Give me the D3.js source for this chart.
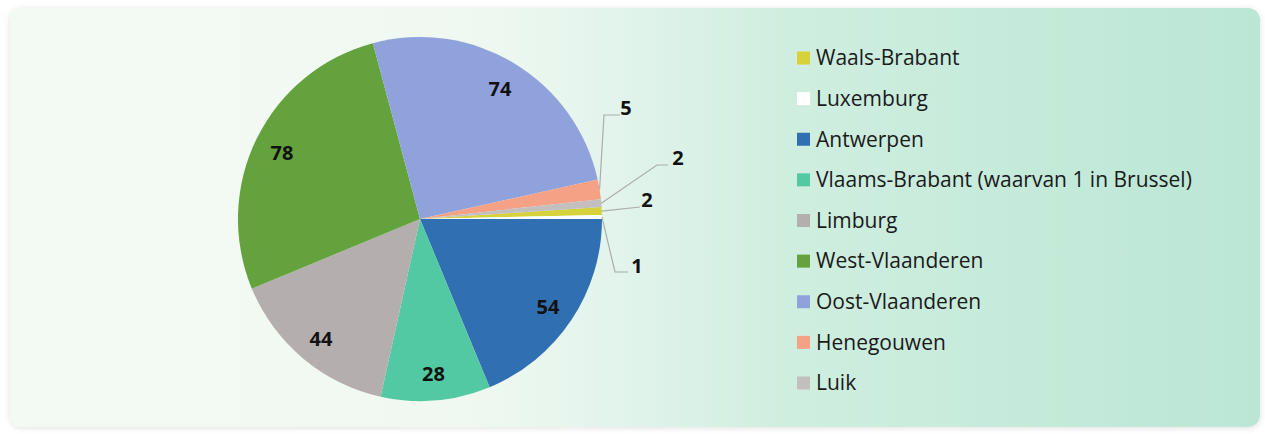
<!DOCTYPE html>
<html>
<head>
<meta charset="utf-8">
<script src="https://cdn.jsdelivr.net/npm/d3@7"></script>
<style>
  html, body { margin: 0; padding: 0; background: #ffffff; }
  svg { display: block; font-family: "Open Sans", "Noto Sans", sans-serif; }
</style>
</head>
<body>
<div id="chart"></div>
<script>
// data, in legend order
var provinces = ["Waals-Brabant", "Luxemburg", "Antwerpen", "Vlaams-Brabant (waarvan 1 in Brussel)",
  "Limburg", "West-Vlaanderen", "Oost-Vlaanderen", "Henegouwen", "Luik"];
var counts = [2, 1, 54, 28, 44, 78, 74, 5, 2];
var colors = ["#d6d23c", "#ffffff", "#2f6fb2", "#52c9a2", "#b4aeae", "#63a23c", "#8fa2dc", "#f5a185", "#c3bfbf"];

var width = 1265, height = 434;
var cx = 420, cy = 219, radius = 182, labelRadius = 154;

// small slices get an outside label with a leader line (offsets from the pie centre)
var outside = {
  "Henegouwen": { text: [206, -104], elbow: [184, -104], end: [200, -104] },
  "Luik": { text: [258, -54], elbow: [237, -54], end: [248, -54] },
  "Waals-Brabant": { text: [227, -12], elbow: null, end: [220, -12] },
  "Luxemburg": { text: [217, 54], elbow: [195, 53], end: [208, 53] }
};

var data = provinces.map(function(p, i) { return { name: p, value: counts[i], color: colors[i] }; });
var total = d3.sum(counts);
// Antwerpen starts at 3 o'clock, so the first two slices sit just above it
var start = Math.PI / 2 - (counts[0] + counts[1]) / total * 2 * Math.PI;

var svg = d3.select("#chart").append("svg")
  .attr("width", width)
  .attr("height", height);

var defs = svg.append("defs");
var grad = defs.append("linearGradient")
  .attr("id", "bg")
  .attr("x1", "0%").attr("x2", "100%").attr("y1", "0%").attr("y2", "0%");
[["0%", "#f3faf3"], ["36%", "#f0f9f1"], ["48%", "#e3f4ec"], ["62%", "#cfeee0"], ["100%", "#bbe6d5"]]
  .forEach(function(s) { grad.append("stop").attr("offset", s[0]).attr("stop-color", s[1]); });

var shadow = defs.append("filter").attr("id", "shadow")
  .attr("x", "-5%").attr("y", "-10%").attr("width", "110%").attr("height", "120%");
shadow.append("feDropShadow")
  .attr("dx", 0).attr("dy", 1).attr("stdDeviation", 3)
  .attr("flood-color", "#000").attr("flood-opacity", 0.12);

svg.append("rect")
  .attr("x", 10).attr("y", 8)
  .attr("width", 1250).attr("height", 419)
  .attr("rx", 12)
  .attr("fill", "url(#bg)")
  .attr("filter", "url(#shadow)");

var pie = d3.pie()
  .sort(null)
  .value(function(d) { return d.value; })
  .startAngle(start)
  .endAngle(start + 2 * Math.PI);

var arc = d3.arc().innerRadius(0).outerRadius(radius);
var labelArc = d3.arc().innerRadius(labelRadius).outerRadius(labelRadius);
var edgeArc = d3.arc().innerRadius(radius).outerRadius(radius);

var g = svg.append("g").attr("transform", "translate(" + cx + "," + cy + ")");

var arcs = pie(data);

g.selectAll("path.slice")
  .data(arcs)
  .enter().append("path")
  .attr("class", "slice")
  .attr("d", arc)
  .attr("fill", function(d) { return d.data.color; });

// inside labels
g.selectAll("text.inner")
  .data(arcs.filter(function(d) { return !outside[d.data.name]; }))
  .enter().append("text")
  .attr("class", "inner")
  .attr("transform", function(d) { return "translate(" + labelArc.centroid(d) + ")"; })
  .attr("text-anchor", "middle")
  .attr("dy", "0.45em")
  .attr("font-size", 20)
  .attr("font-weight", "bold")
  .attr("fill", "#111")
  .text(function(d) { return d.value; });

// outside labels with leader lines
var outerArcs = arcs.filter(function(d) { return outside[d.data.name]; });

g.selectAll("polyline.leader")
  .data(outerArcs)
  .enter().append("polyline")
  .attr("class", "leader")
  .attr("fill", "none")
  .attr("stroke", "#a9aeac")
  .attr("stroke-width", 1.2)
  .attr("points", function(d) {
    var o = outside[d.data.name];
    var pts = [edgeArc.centroid(d)];
    if (o.elbow) pts.push(o.elbow);
    pts.push(o.end);
    return pts.map(function(p) { return p.join(","); }).join(" ");
  });

g.selectAll("text.outer")
  .data(outerArcs)
  .enter().append("text")
  .attr("class", "outer")
  .attr("x", function(d) { return outside[d.data.name].text[0]; })
  .attr("y", function(d) { return outside[d.data.name].text[1]; })
  .attr("text-anchor", "middle")
  .attr("font-size", 20)
  .attr("font-weight", "bold")
  .attr("fill", "#111")
  .text(function(d) { return d.value; });

// legend
var legendY = d3.scalePoint()
  .domain(provinces)
  .range([58, 383]);

var legend = svg.append("g").attr("class", "legend");

var item = legend.selectAll("g")
  .data(data)
  .enter().append("g")
  .attr("transform", function(d) { return "translate(797," + legendY(d.name) + ")"; });

item.append("rect")
  .attr("x", 0).attr("y", -6.5)
  .attr("width", 13).attr("height", 13)
  .attr("fill", function(d) { return d.color; });

item.append("text")
  .attr("x", 19)
  .attr("dy", "0.35em")
  .attr("font-size", 21)
  .attr("fill", "#1a1a1a")
  .text(function(d) { return d.name; });
</script>
</body>
</html>
